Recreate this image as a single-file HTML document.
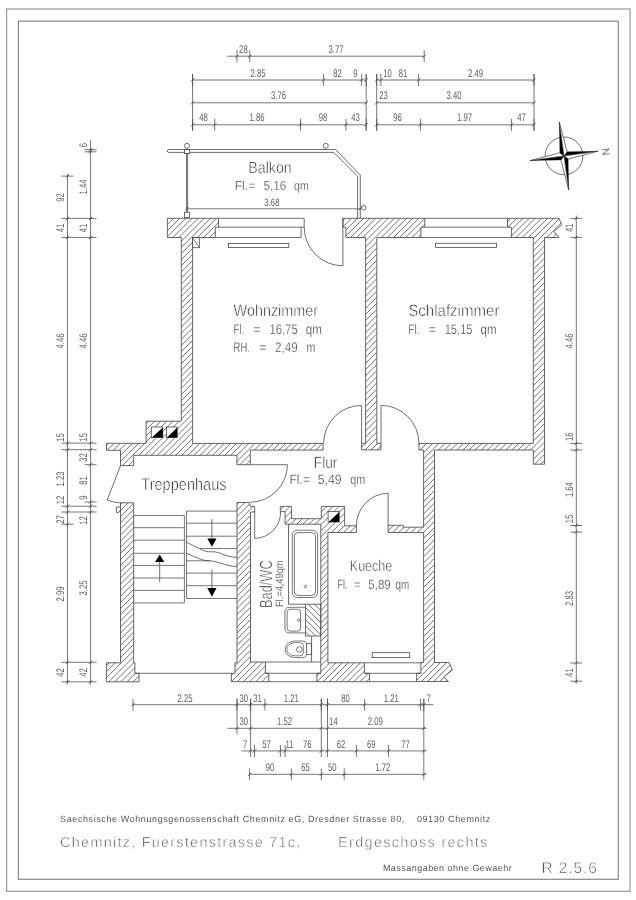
<!DOCTYPE html>
<html><head><meta charset="utf-8"><title>Grundriss</title>
<style>
html,body{margin:0;padding:0;background:#fff;}
svg{display:block;font-family:"Liberation Sans",sans-serif;text-rendering:geometricPrecision;will-change:transform;}
</style></head><body>
<svg width="636" height="900" viewBox="0 0 636 900">
<defs><filter id="soft" x="0" y="0" width="636" height="900" filterUnits="userSpaceOnUse"><feGaussianBlur stdDeviation="0.42"/></filter></defs>
<rect width="636" height="900" fill="#fff"/>
<g filter="url(#soft)">
<rect x="6.60" y="9.00" width="623.50" height="882.30" rx="0" fill="none" stroke="#9c9c9c" stroke-width="1.25"/>
<rect x="18.40" y="21.20" width="599.90" height="858.10" rx="0" fill="none" stroke="#8c8c8c" stroke-width="1.25"/>
<defs><clipPath id="wc"><path d="M167.40,218.30 L218.50,218.30 L218.50,227.20 L215.30,227.20 L215.30,237.50 L192.60,237.50 L192.60,443.40 L323.10,443.40 L323.10,450.10 L250.30,450.10 L250.30,464.70 L236.90,464.70 L236.90,455.30 L133.70,455.30 L133.70,465.60 L120.50,465.60 L120.50,450.30 L106.50,450.30 L106.50,443.30 L146.10,443.30 L146.10,421.20 L181.30,421.20 L181.30,237.50 L167.40,237.50 Z M342.90,218.30 L424.80,218.30 L424.80,227.20 L420.90,227.20 L420.90,237.50 L376.80,237.50 L376.80,443.30 L381.00,443.30 L381.00,449.90 L361.60,449.90 L361.60,443.30 L365.60,443.30 L365.60,237.50 L345.90,237.50 L345.90,227.20 L342.90,227.20 Z M507.50,218.30 L558.80,218.30 L561.90,224.60 L553.90,231.40 L558.80,237.50 L544.50,237.50 L544.50,464.20 L533.30,464.20 L533.30,450.00 L434.50,450.00 L434.50,662.50 L449.00,662.50 L452.40,670.00 L443.70,677.00 L448.40,681.50 L416.60,681.50 L416.60,673.30 L420.90,673.30 L420.90,662.50 L423.60,662.50 L423.60,532.50 L388.10,532.50 L388.10,525.30 L403.20,525.30 L403.20,527.20 L423.60,527.20 L423.60,450.00 L418.90,450.00 L418.90,443.40 L533.30,443.40 L533.30,237.50 L511.40,237.50 L511.40,227.20 L507.50,227.20 Z M120.50,502.80 L133.70,502.80 L133.70,662.80 L134.90,662.80 L134.90,673.30 L139.00,673.30 L139.00,681.80 L106.40,681.80 L106.40,662.80 L120.50,662.80 Z M237.00,502.50 L249.30,502.50 L250.30,506.30 L254.70,506.30 L254.70,512.00 L250.50,512.00 L250.50,662.00 L265.40,662.00 L265.40,673.30 L268.80,673.30 L268.80,681.70 L231.40,681.70 L231.40,673.30 L235.00,673.30 L235.00,662.80 L237.00,662.80 Z M280.30,506.40 L291.40,506.40 L291.40,518.70 L321.30,518.70 L321.30,506.40 L344.60,506.40 L344.60,525.80 L356.40,525.80 L356.40,532.50 L327.90,532.50 L327.90,662.80 L364.40,662.80 L364.40,673.30 L369.60,673.30 L369.60,681.70 L316.90,681.70 L316.90,673.30 L320.80,673.30 L320.80,524.20 L285.10,524.20 L285.10,511.60 L280.30,511.60 Z"/></clipPath>
<clipPath id="wc2"><rect x="305.4" y="604.2" width="15.4" height="31.8"/></clipPath></defs>
<path clip-path="url(#wc)" d="M-4.26,200 L-504.26,700 M1.87,200 L-498.13,700 M8.00,200 L-492.00,700 M14.13,200 L-485.87,700 M20.26,200 L-479.74,700 M26.39,200 L-473.61,700 M32.52,200 L-467.48,700 M38.65,200 L-461.35,700 M44.78,200 L-455.22,700 M50.91,200 L-449.09,700 M57.04,200 L-442.96,700 M63.17,200 L-436.83,700 M69.30,200 L-430.70,700 M75.43,200 L-424.57,700 M81.56,200 L-418.44,700 M87.69,200 L-412.31,700 M93.82,200 L-406.18,700 M99.95,200 L-400.05,700 M106.08,200 L-393.92,700 M112.21,200 L-387.79,700 M118.34,200 L-381.66,700 M124.47,200 L-375.53,700 M130.60,200 L-369.40,700 M136.73,200 L-363.27,700 M142.86,200 L-357.14,700 M148.99,200 L-351.01,700 M155.12,200 L-344.88,700 M161.25,200 L-338.75,700 M167.38,200 L-332.62,700 M173.51,200 L-326.49,700 M179.64,200 L-320.36,700 M185.77,200 L-314.23,700 M191.90,200 L-308.10,700 M198.03,200 L-301.97,700 M204.16,200 L-295.84,700 M210.29,200 L-289.71,700 M216.42,200 L-283.58,700 M222.55,200 L-277.45,700 M228.68,200 L-271.32,700 M234.81,200 L-265.19,700 M240.94,200 L-259.06,700 M247.07,200 L-252.93,700 M253.20,200 L-246.80,700 M259.33,200 L-240.67,700 M265.46,200 L-234.54,700 M271.59,200 L-228.41,700 M277.72,200 L-222.28,700 M283.85,200 L-216.15,700 M289.98,200 L-210.02,700 M296.11,200 L-203.89,700 M302.24,200 L-197.76,700 M308.37,200 L-191.63,700 M314.50,200 L-185.50,700 M320.63,200 L-179.37,700 M326.76,200 L-173.24,700 M332.89,200 L-167.11,700 M339.02,200 L-160.98,700 M345.15,200 L-154.85,700 M351.28,200 L-148.72,700 M357.41,200 L-142.59,700 M363.54,200 L-136.46,700 M369.67,200 L-130.33,700 M375.80,200 L-124.20,700 M381.93,200 L-118.07,700 M388.06,200 L-111.94,700 M394.19,200 L-105.81,700 M400.32,200 L-99.68,700 M406.45,200 L-93.55,700 M412.58,200 L-87.42,700 M418.71,200 L-81.29,700 M424.84,200 L-75.16,700 M430.97,200 L-69.03,700 M437.10,200 L-62.90,700 M443.23,200 L-56.77,700 M449.36,200 L-50.64,700 M455.49,200 L-44.51,700 M461.62,200 L-38.38,700 M467.75,200 L-32.25,700 M473.88,200 L-26.12,700 M480.01,200 L-19.99,700 M486.14,200 L-13.86,700 M492.27,200 L-7.73,700 M498.40,200 L-1.60,700 M504.53,200 L4.53,700 M510.66,200 L10.66,700 M516.79,200 L16.79,700 M522.92,200 L22.92,700 M529.05,200 L29.05,700 M535.18,200 L35.18,700 M541.31,200 L41.31,700 M547.44,200 L47.44,700 M553.57,200 L53.57,700 M559.70,200 L59.70,700 M565.83,200 L65.83,700 M571.96,200 L71.96,700 M578.09,200 L78.09,700 M584.22,200 L84.22,700 M590.35,200 L90.35,700 M596.48,200 L96.48,700 M602.61,200 L102.61,700 M608.74,200 L108.74,700 M614.87,200 L114.87,700 M621.00,200 L121.00,700 M627.13,200 L127.13,700 M633.26,200 L133.26,700 M639.39,200 L139.39,700 M645.52,200 L145.52,700 M651.65,200 L151.65,700 M657.78,200 L157.78,700 M663.91,200 L163.91,700 M670.04,200 L170.04,700 M676.17,200 L176.17,700 M682.30,200 L182.30,700 M688.43,200 L188.43,700 M694.56,200 L194.56,700 M700.69,200 L200.69,700 M706.82,200 L206.82,700 M712.95,200 L212.95,700 M719.08,200 L219.08,700 M725.21,200 L225.21,700 M731.34,200 L231.34,700 M737.47,200 L237.47,700 M743.60,200 L243.60,700 M749.73,200 L249.73,700 M755.86,200 L255.86,700 M761.99,200 L261.99,700 M768.12,200 L268.12,700 M774.25,200 L274.25,700 M780.38,200 L280.38,700 M786.51,200 L286.51,700 M792.64,200 L292.64,700 M798.77,200 L298.77,700 M804.90,200 L304.90,700 M811.03,200 L311.03,700 M817.16,200 L317.16,700 M823.29,200 L323.29,700 M829.42,200 L329.42,700 M835.55,200 L335.55,700 M841.68,200 L341.68,700 M847.81,200 L347.81,700 M853.94,200 L353.94,700 M860.07,200 L360.07,700 M866.20,200 L366.20,700 M872.33,200 L372.33,700 M878.46,200 L378.46,700 M884.59,200 L384.59,700 M890.72,200 L390.72,700 M896.85,200 L396.85,700 M902.98,200 L402.98,700 M909.11,200 L409.11,700 M915.24,200 L415.24,700 M921.37,200 L421.37,700 M927.50,200 L427.50,700 M933.63,200 L433.63,700 M939.76,200 L439.76,700 M945.89,200 L445.89,700 M952.02,200 L452.02,700 M958.15,200 L458.15,700 M964.28,200 L464.28,700 M970.41,200 L470.41,700 M976.54,200 L476.54,700 M982.67,200 L482.67,700 M988.80,200 L488.80,700 M994.93,200 L494.93,700 M1001.06,200 L501.06,700 M1007.19,200 L507.19,700 M1013.32,200 L513.32,700 M1019.45,200 L519.45,700 M1025.58,200 L525.58,700 M1031.71,200 L531.71,700 M1037.84,200 L537.84,700 M1043.97,200 L543.97,700 M1050.10,200 L550.10,700 M1056.23,200 L556.23,700 M1062.36,200 L562.36,700 M1068.49,200 L568.49,700 M1074.62,200 L574.62,700 M1080.75,200 L580.75,700 M1086.88,200 L586.88,700 M1093.01,200 L593.01,700 M1099.14,200 L599.14,700" stroke="#4c4c4c" stroke-width="0.78" fill="none"/>
<path clip-path="url(#wc2)" d="M190.00,590 L250.00,650 M196.13,590 L256.13,650 M202.26,590 L262.26,650 M208.39,590 L268.39,650 M214.52,590 L274.52,650 M220.65,590 L280.65,650 M226.78,590 L286.78,650 M232.91,590 L292.91,650 M239.04,590 L299.04,650 M245.17,590 L305.17,650 M251.30,590 L311.30,650 M257.43,590 L317.43,650 M263.56,590 L323.56,650 M269.69,590 L329.69,650 M275.82,590 L335.82,650 M281.95,590 L341.95,650 M288.08,590 L348.08,650 M294.21,590 L354.21,650 M300.34,590 L360.34,650 M306.47,590 L366.47,650 M312.60,590 L372.60,650 M318.73,590 L378.73,650 M324.86,590 L384.86,650 M330.99,590 L390.99,650 M337.12,590 L397.12,650 M343.25,590 L403.25,650 M349.38,590 L409.38,650 M355.51,590 L415.51,650 M361.64,590 L421.64,650 M367.77,590 L427.77,650 M373.90,590 L433.90,650 M380.03,590 L440.03,650 M386.16,590 L446.16,650 M392.29,590 L452.29,650 M398.42,590 L458.42,650 M404.55,590 L464.55,650 M410.68,590 L470.68,650 M416.81,590 L476.81,650 M422.94,590 L482.94,650 M429.07,590 L489.07,650 M435.20,590 L495.20,650 M441.33,590 L501.33,650 M447.46,590 L507.46,650 M453.59,590 L513.59,650 M459.72,590 L519.72,650 M465.85,590 L525.85,650 M471.98,590 L531.98,650 M478.11,590 L538.11,650 M484.24,590 L544.24,650 M490.37,590 L550.37,650 M496.50,590 L556.50,650 M502.63,590 L562.63,650 M508.76,590 L568.76,650 M514.89,590 L574.89,650 M521.02,590 L581.02,650 M527.15,590 L587.15,650 M533.28,590 L593.28,650 M539.41,590 L599.41,650 M545.54,590 L605.54,650 M551.67,590 L611.67,650 M557.80,590 L617.80,650 M563.93,590 L623.93,650 M570.06,590 L630.06,650 M576.19,590 L636.19,650 M582.32,590 L642.32,650 M588.45,590 L648.45,650" stroke="#4c4c4c" stroke-width="0.78" fill="none"/>
<rect x="305.40" y="604.20" width="15.40" height="31.80" rx="0" fill="none" stroke="#4a4a4a" stroke-width="0.8"/>
<path d="M167.40,218.30 L218.50,218.30 L218.50,227.20 L215.30,227.20 L215.30,237.50 L192.60,237.50 L192.60,443.40 L323.10,443.40 L323.10,450.10 L250.30,450.10 L250.30,464.70 L236.90,464.70 L236.90,455.30 L133.70,455.30 L133.70,465.60 L120.50,465.60 L120.50,450.30 L106.50,450.30 L106.50,443.30 L146.10,443.30 L146.10,421.20 L181.30,421.20 L181.30,237.50 L167.40,237.50 Z" fill="none" stroke="#4a4a4a" stroke-width="0.85" stroke-linejoin="miter"/>
<path d="M342.90,218.30 L424.80,218.30 L424.80,227.20 L420.90,227.20 L420.90,237.50 L376.80,237.50 L376.80,443.30 L381.00,443.30 L381.00,449.90 L361.60,449.90 L361.60,443.30 L365.60,443.30 L365.60,237.50 L345.90,237.50 L345.90,227.20 L342.90,227.20 Z" fill="none" stroke="#4a4a4a" stroke-width="0.85" stroke-linejoin="miter"/>
<path d="M507.50,218.30 L558.80,218.30 L561.90,224.60 L553.90,231.40 L558.80,237.50 L544.50,237.50 L544.50,464.20 L533.30,464.20 L533.30,450.00 L434.50,450.00 L434.50,662.50 L449.00,662.50 L452.40,670.00 L443.70,677.00 L448.40,681.50 L416.60,681.50 L416.60,673.30 L420.90,673.30 L420.90,662.50 L423.60,662.50 L423.60,532.50 L388.10,532.50 L388.10,525.30 L403.20,525.30 L403.20,527.20 L423.60,527.20 L423.60,450.00 L418.90,450.00 L418.90,443.40 L533.30,443.40 L533.30,237.50 L511.40,237.50 L511.40,227.20 L507.50,227.20 Z" fill="none" stroke="#4a4a4a" stroke-width="0.85" stroke-linejoin="miter"/>
<path d="M120.50,502.80 L133.70,502.80 L133.70,662.80 L134.90,662.80 L134.90,673.30 L139.00,673.30 L139.00,681.80 L106.40,681.80 L106.40,662.80 L120.50,662.80 Z" fill="none" stroke="#4a4a4a" stroke-width="0.85" stroke-linejoin="miter"/>
<path d="M237.00,502.50 L249.30,502.50 L250.30,506.30 L254.70,506.30 L254.70,512.00 L250.50,512.00 L250.50,662.00 L265.40,662.00 L265.40,673.30 L268.80,673.30 L268.80,681.70 L231.40,681.70 L231.40,673.30 L235.00,673.30 L235.00,662.80 L237.00,662.80 Z" fill="none" stroke="#4a4a4a" stroke-width="0.85" stroke-linejoin="miter"/>
<path d="M280.30,506.40 L291.40,506.40 L291.40,518.70 L321.30,518.70 L321.30,506.40 L344.60,506.40 L344.60,525.80 L356.40,525.80 L356.40,532.50 L327.90,532.50 L327.90,662.80 L364.40,662.80 L364.40,673.30 L369.60,673.30 L369.60,681.70 L316.90,681.70 L316.90,673.30 L320.80,673.30 L320.80,524.20 L285.10,524.20 L285.10,511.60 L280.30,511.60 Z" fill="none" stroke="#4a4a4a" stroke-width="0.85" stroke-linejoin="miter"/>
<rect x="151.30" y="427.00" width="11.50" height="10.60" rx="0" fill="#fff" stroke="#4a4a4a" stroke-width="0.8"/>
<path d="M151.90,437.60 L162.80,437.60 L162.80,427.60 Z" fill="#000"/>
<rect x="166.40" y="427.00" width="10.80" height="10.60" rx="0" fill="#fff" stroke="#4a4a4a" stroke-width="0.8"/>
<path d="M167.00,437.60 L177.20,437.60 L177.20,427.60 Z" fill="#000"/>
<rect x="328.10" y="511.40" width="11.10" height="10.70" rx="0" fill="#fff" stroke="#4a4a4a" stroke-width="0.8"/>
<path d="M328.70,522.10 L339.20,522.10 L339.20,512.00 Z" fill="#000"/>
<rect x="192.60" y="237.50" width="6.70" height="10.20" rx="0" fill="none" stroke="#4a4a4a" stroke-width="0.8"/>
<line x1="192.60" y1="237.50" x2="199.30" y2="247.70" stroke="#4a4a4a" stroke-width="0.7"/>
<path d="M120.50,507.00 L116.40,507.00 L116.40,512.40 L119.00,512.40 L119.00,511.20 L120.50,511.20" fill="none" stroke="#4a4a4a" stroke-width="0.8" stroke-linejoin="miter"/>
<line x1="218.50" y1="218.30" x2="304.20" y2="218.30" stroke="#4a4a4a" stroke-width="0.8"/>
<line x1="304.20" y1="218.30" x2="304.20" y2="227.20" stroke="#4a4a4a" stroke-width="0.8"/>
<line x1="218.50" y1="227.20" x2="304.20" y2="227.20" stroke="#4a4a4a" stroke-width="0.8"/>
<line x1="301.10" y1="227.20" x2="301.10" y2="237.50" stroke="#4a4a4a" stroke-width="0.8"/>
<line x1="215.30" y1="237.50" x2="301.10" y2="237.50" stroke="#4a4a4a" stroke-width="0.8"/>
<rect x="228.40" y="243.40" width="60.40" height="4.10" rx="0" fill="none" stroke="#4a4a4a" stroke-width="0.8"/>
<line x1="424.80" y1="218.30" x2="507.50" y2="218.30" stroke="#4a4a4a" stroke-width="0.8"/>
<line x1="424.80" y1="227.20" x2="507.50" y2="227.20" stroke="#4a4a4a" stroke-width="0.8"/>
<line x1="420.90" y1="237.50" x2="511.40" y2="237.50" stroke="#4a4a4a" stroke-width="0.8"/>
<rect x="435.60" y="243.30" width="60.90" height="4.20" rx="0" fill="none" stroke="#4a4a4a" stroke-width="0.8"/>
<line x1="265.40" y1="662.00" x2="320.80" y2="662.00" stroke="#4a4a4a" stroke-width="0.8"/>
<line x1="265.40" y1="673.30" x2="320.80" y2="673.30" stroke="#4a4a4a" stroke-width="0.8"/>
<line x1="268.80" y1="681.70" x2="316.90" y2="681.70" stroke="#4a4a4a" stroke-width="0.8"/>
<line x1="364.40" y1="662.80" x2="420.90" y2="662.80" stroke="#4a4a4a" stroke-width="0.8"/>
<line x1="364.40" y1="673.30" x2="420.90" y2="673.30" stroke="#4a4a4a" stroke-width="0.8"/>
<line x1="369.60" y1="681.60" x2="416.60" y2="681.60" stroke="#4a4a4a" stroke-width="0.8"/>
<rect x="372.20" y="652.70" width="37.50" height="4.90" rx="0" fill="none" stroke="#4a4a4a" stroke-width="0.8"/>
<line x1="134.90" y1="673.30" x2="231.40" y2="673.30" stroke="#4a4a4a" stroke-width="0.8"/>
<line x1="342.90" y1="218.30" x2="342.90" y2="265.80" stroke="#4a4a4a" stroke-width="0.8"/>
<path d="M304.2,227.2 A38.6,38.6 0 0 0 342.9,265.8" fill="none" stroke="#4a4a4a" stroke-width="0.8"/>
<line x1="361.60" y1="405.40" x2="361.60" y2="443.30" stroke="#4a4a4a" stroke-width="0.8"/>
<path d="M323.6,443.3 A38,38 0 0 1 361.6,405.4" fill="none" stroke="#4a4a4a" stroke-width="0.8"/>
<line x1="381.00" y1="405.40" x2="381.00" y2="443.30" stroke="#4a4a4a" stroke-width="0.8"/>
<path d="M381,405.4 A37.9,37.9 0 0 1 418.9,443.3" fill="none" stroke="#4a4a4a" stroke-width="0.8"/>
<line x1="250.30" y1="464.70" x2="287.40" y2="464.70" stroke="#4a4a4a" stroke-width="0.8"/>
<path d="M287.4,464.7 A37.6,37.6 0 0 1 250.3,502.3" fill="none" stroke="#4a4a4a" stroke-width="0.8"/>
<line x1="254.70" y1="512.00" x2="254.70" y2="538.40" stroke="#4a4a4a" stroke-width="0.8"/>
<path d="M254.7,538.4 A26.2,26.2 0 0 0 280.6,512" fill="none" stroke="#4a4a4a" stroke-width="0.8"/>
<line x1="388.10" y1="493.20" x2="388.10" y2="525.80" stroke="#4a4a4a" stroke-width="0.8"/>
<path d="M356.4,526 A32.4,32.4 0 0 1 388.1,493.2" fill="none" stroke="#4a4a4a" stroke-width="0.8"/>
<path d="M120.5,465.6 L107.2,500 Q113,502.6 120.5,502.9" fill="none" stroke="#4a4a4a" stroke-width="0.8"/>
<line x1="133.70" y1="515.50" x2="184.40" y2="515.50" stroke="#4a4a4a" stroke-width="0.75"/>
<line x1="133.70" y1="527.70" x2="184.40" y2="527.70" stroke="#4a4a4a" stroke-width="0.75"/>
<line x1="133.70" y1="540.20" x2="184.40" y2="540.20" stroke="#4a4a4a" stroke-width="0.75"/>
<line x1="133.70" y1="553.30" x2="184.40" y2="553.30" stroke="#4a4a4a" stroke-width="0.75"/>
<line x1="133.70" y1="565.40" x2="184.40" y2="565.40" stroke="#4a4a4a" stroke-width="0.75"/>
<line x1="133.70" y1="578.00" x2="184.40" y2="578.00" stroke="#4a4a4a" stroke-width="0.75"/>
<line x1="133.70" y1="590.40" x2="184.40" y2="590.40" stroke="#4a4a4a" stroke-width="0.75"/>
<line x1="133.70" y1="602.90" x2="184.40" y2="602.90" stroke="#4a4a4a" stroke-width="0.75"/>
<line x1="184.40" y1="515.50" x2="184.40" y2="602.90" stroke="#4a4a4a" stroke-width="0.75"/>
<line x1="186.50" y1="511.10" x2="186.50" y2="598.50" stroke="#4a4a4a" stroke-width="0.75"/>
<line x1="186.50" y1="511.10" x2="236.90" y2="511.10" stroke="#4a4a4a" stroke-width="0.75"/>
<line x1="186.50" y1="523.20" x2="236.90" y2="523.20" stroke="#4a4a4a" stroke-width="0.75"/>
<line x1="186.50" y1="536.20" x2="236.90" y2="536.20" stroke="#4a4a4a" stroke-width="0.75"/>
<line x1="186.50" y1="573.10" x2="236.90" y2="573.10" stroke="#4a4a4a" stroke-width="0.75"/>
<line x1="186.50" y1="585.70" x2="236.90" y2="585.70" stroke="#4a4a4a" stroke-width="0.75"/>
<line x1="186.50" y1="598.50" x2="236.90" y2="598.50" stroke="#4a4a4a" stroke-width="0.75"/>
<line x1="200.00" y1="548.60" x2="236.90" y2="548.60" stroke="#4a4a4a" stroke-width="0.75"/>
<line x1="186.40" y1="560.80" x2="210.20" y2="560.80" stroke="#4a4a4a" stroke-width="0.75"/>
<path d="M186.4,542.3 C191,544.3 196,547.2 200.4,548.9 C202.5,549.8 203.8,550.9 205.6,551.3 C209,552.1 212.5,551.5 215.8,552 C220,552.7 224,555 228,556.1 C231,556.9 234,557.1 236.9,557.4" fill="none" stroke="#4a4a4a" stroke-width="0.8"/>
<path d="M186.4,553.3 C191,555.1 196,557.6 200.4,559.1 C202.3,559.8 203.8,560.3 205.6,560.5 C207.7,560.8 209.7,560.6 211.7,560.9 C215,561.4 218,562.4 220.9,563.2 C224,564.1 227,565.1 230.1,565.8 C232.4,566.3 234.6,566.4 236.9,566.5" fill="none" stroke="#4a4a4a" stroke-width="0.8"/>
<line x1="159.70" y1="582.00" x2="159.70" y2="562.10" stroke="#4a4a4a" stroke-width="0.8"/>
<path d="M155.10,562.10 L164.30,562.10 L159.70,554.40 Z" fill="#000"/>
<line x1="211.90" y1="519.20" x2="211.90" y2="538.40" stroke="#4a4a4a" stroke-width="0.8"/>
<path d="M207.30,538.40 L216.50,538.40 L211.90,546.70 Z" fill="#000"/>
<line x1="211.90" y1="569.80" x2="211.90" y2="588.10" stroke="#4a4a4a" stroke-width="0.8"/>
<path d="M207.30,588.10 L216.50,588.10 L211.90,596.70 Z" fill="#000"/>
<line x1="288.50" y1="524.20" x2="288.50" y2="604.20" stroke="#4a4a4a" stroke-width="0.8"/>
<line x1="288.50" y1="604.20" x2="305.40" y2="604.20" stroke="#4a4a4a" stroke-width="0.8"/>
<rect x="292.30" y="530.20" width="25.30" height="67.30" rx="5" fill="none" stroke="#4a4a4a" stroke-width="0.75"/>
<rect x="294.40" y="532.60" width="21.10" height="62.80" rx="3.6" fill="none" stroke="#4a4a4a" stroke-width="0.75"/>
<circle cx="305.40" cy="586.60" r="1.3" fill="none" stroke="#4a4a4a" stroke-width="0.7"/>
<path d="M305.4,607.3 L289.4,607.3 Q284.9,607.3 284.9,611.8 L284.9,628.4 Q284.9,632.9 289.4,632.9 L305.4,632.9" fill="none" stroke="#4a4a4a" stroke-width="0.75"/>
<rect x="287.10" y="609.20" width="13.50" height="21.90" rx="3" fill="none" stroke="#4a4a4a" stroke-width="0.75"/>
<circle cx="298.60" cy="620.30" r="1.2" fill="none" stroke="#4a4a4a" stroke-width="0.7"/>
<line x1="311.60" y1="636.00" x2="311.60" y2="662.00" stroke="#4a4a4a" stroke-width="0.8"/>
<rect x="306.60" y="643.60" width="5.00" height="10.90" rx="0" fill="none" stroke="#4a4a4a" stroke-width="0.75"/>
<path d="M297,641 L302,641 Q306.6,641 306.6,645 L306.6,653.7 Q306.6,657.7 302,657.7 L297,657.7 C289,657.7 285.2,654 285.2,649.35 C285.2,644.7 289,641 297,641 Z" fill="#fff" stroke="#4a4a4a" stroke-width="0.75"/>
<path d="M296.5,642.7 L300,642.7 Q303.3,642.7 303.3,645.5 L303.3,653 Q303.3,655.8 300,655.8 L296.5,655.8 C290,655.8 287,653 287,649.25 C287,645.5 290,642.7 296.5,642.7 Z" fill="none" stroke="#4a4a4a" stroke-width="0.7"/>
<circle cx="299.30" cy="649.40" r="2.8" fill="none" stroke="#4a4a4a" stroke-width="0.75"/>
<path d="M168.8,149.5 L335.6,149.5 L360.3,175.1 L360.3,218.3" fill="none" stroke="#4a4a4a" stroke-width="0.8"/>
<path d="M168.8,152.4 L333.7,152.4 L357.6,176.2 L357.6,218.3" fill="none" stroke="#4a4a4a" stroke-width="0.8"/>
<path d="M168.8,149.5 A1.45,1.45 0 0 0 168.8,152.4" fill="none" stroke="#4a4a4a" stroke-width="0.8"/>
<circle cx="187.00" cy="145.80" r="2.5" fill="none" stroke="#4a4a4a" stroke-width="0.8"/>
<rect x="184.50" y="149.50" width="5.10" height="4.10" rx="0" fill="#fff" stroke="#4a4a4a" stroke-width="0.8"/>
<circle cx="325.80" cy="145.80" r="2.5" fill="none" stroke="#4a4a4a" stroke-width="0.8"/>
<circle cx="363.70" cy="207.70" r="2.3" fill="none" stroke="#4a4a4a" stroke-width="0.8"/>
<line x1="186.60" y1="153.60" x2="186.60" y2="212.30" stroke="#4a4a4a" stroke-width="0.8"/>
<line x1="187.60" y1="153.60" x2="187.60" y2="212.30" stroke="#4a4a4a" stroke-width="0.8"/>
<rect x="184.40" y="212.30" width="5.20" height="5.10" rx="0" fill="#fff" stroke="#4a4a4a" stroke-width="0.8"/>
<line x1="187.00" y1="208.80" x2="360.30" y2="208.80" stroke="#4a4a4a" stroke-width="0.75"/>
<line x1="185.40" y1="210.40" x2="188.60" y2="207.20" stroke="#4a4a4a" stroke-width="0.9"/>
<line x1="358.70" y1="210.40" x2="361.90" y2="207.20" stroke="#4a4a4a" stroke-width="0.9"/>
<text x="271.90" y="206.00" font-size="10.8" text-anchor="middle" fill="#5e5e5e" transform="translate(271.90 0) scale(0.72 1) translate(-271.90 0)">3.68</text>
<line x1="227.00" y1="56.20" x2="424.20" y2="56.20" stroke="#4a4a4a" stroke-width="0.75"/>
<line x1="237.00" y1="50.20" x2="237.00" y2="62.20" stroke="#4a4a4a" stroke-width="0.75"/>
<line x1="235.40" y1="57.80" x2="238.60" y2="54.60" stroke="#4a4a4a" stroke-width="0.9"/>
<line x1="249.80" y1="50.20" x2="249.80" y2="62.20" stroke="#4a4a4a" stroke-width="0.75"/>
<line x1="248.20" y1="57.80" x2="251.40" y2="54.60" stroke="#4a4a4a" stroke-width="0.9"/>
<line x1="424.20" y1="50.20" x2="424.20" y2="62.20" stroke="#4a4a4a" stroke-width="0.75"/>
<line x1="422.60" y1="57.80" x2="425.80" y2="54.60" stroke="#4a4a4a" stroke-width="0.9"/>
<line x1="192.60" y1="80.00" x2="366.20" y2="80.00" stroke="#4a4a4a" stroke-width="0.75"/>
<line x1="376.70" y1="80.00" x2="534.00" y2="80.00" stroke="#4a4a4a" stroke-width="0.75"/>
<line x1="192.60" y1="74.00" x2="192.60" y2="86.00" stroke="#4a4a4a" stroke-width="0.75"/>
<line x1="191.00" y1="81.60" x2="194.20" y2="78.40" stroke="#4a4a4a" stroke-width="0.9"/>
<line x1="323.60" y1="74.00" x2="323.60" y2="86.00" stroke="#4a4a4a" stroke-width="0.75"/>
<line x1="322.00" y1="81.60" x2="325.20" y2="78.40" stroke="#4a4a4a" stroke-width="0.9"/>
<line x1="361.60" y1="74.00" x2="361.60" y2="86.00" stroke="#4a4a4a" stroke-width="0.75"/>
<line x1="360.00" y1="81.60" x2="363.20" y2="78.40" stroke="#4a4a4a" stroke-width="0.9"/>
<line x1="366.20" y1="74.00" x2="366.20" y2="86.00" stroke="#4a4a4a" stroke-width="0.75"/>
<line x1="364.60" y1="81.60" x2="367.80" y2="78.40" stroke="#4a4a4a" stroke-width="0.9"/>
<line x1="376.70" y1="74.00" x2="376.70" y2="86.00" stroke="#4a4a4a" stroke-width="0.75"/>
<line x1="375.10" y1="81.60" x2="378.30" y2="78.40" stroke="#4a4a4a" stroke-width="0.9"/>
<line x1="380.90" y1="74.00" x2="380.90" y2="86.00" stroke="#4a4a4a" stroke-width="0.75"/>
<line x1="379.30" y1="81.60" x2="382.50" y2="78.40" stroke="#4a4a4a" stroke-width="0.9"/>
<line x1="418.60" y1="74.00" x2="418.60" y2="86.00" stroke="#4a4a4a" stroke-width="0.75"/>
<line x1="417.00" y1="81.60" x2="420.20" y2="78.40" stroke="#4a4a4a" stroke-width="0.9"/>
<line x1="534.00" y1="74.00" x2="534.00" y2="86.00" stroke="#4a4a4a" stroke-width="0.75"/>
<line x1="532.40" y1="81.60" x2="535.60" y2="78.40" stroke="#4a4a4a" stroke-width="0.9"/>
<line x1="192.60" y1="102.80" x2="366.20" y2="102.80" stroke="#4a4a4a" stroke-width="0.75"/>
<line x1="376.70" y1="102.80" x2="534.00" y2="102.80" stroke="#4a4a4a" stroke-width="0.75"/>
<line x1="191.00" y1="104.40" x2="194.20" y2="101.20" stroke="#4a4a4a" stroke-width="0.9"/>
<line x1="364.60" y1="104.40" x2="367.80" y2="101.20" stroke="#4a4a4a" stroke-width="0.9"/>
<line x1="375.10" y1="104.40" x2="378.30" y2="101.20" stroke="#4a4a4a" stroke-width="0.9"/>
<line x1="532.40" y1="104.40" x2="535.60" y2="101.20" stroke="#4a4a4a" stroke-width="0.9"/>
<line x1="192.60" y1="124.80" x2="366.20" y2="124.80" stroke="#4a4a4a" stroke-width="0.75"/>
<line x1="376.70" y1="124.80" x2="534.00" y2="124.80" stroke="#4a4a4a" stroke-width="0.75"/>
<line x1="192.60" y1="118.80" x2="192.60" y2="130.80" stroke="#4a4a4a" stroke-width="0.75"/>
<line x1="191.00" y1="126.40" x2="194.20" y2="123.20" stroke="#4a4a4a" stroke-width="0.9"/>
<line x1="214.70" y1="118.80" x2="214.70" y2="130.80" stroke="#4a4a4a" stroke-width="0.75"/>
<line x1="213.10" y1="126.40" x2="216.30" y2="123.20" stroke="#4a4a4a" stroke-width="0.9"/>
<line x1="300.50" y1="118.80" x2="300.50" y2="130.80" stroke="#4a4a4a" stroke-width="0.75"/>
<line x1="298.90" y1="126.40" x2="302.10" y2="123.20" stroke="#4a4a4a" stroke-width="0.9"/>
<line x1="346.00" y1="118.80" x2="346.00" y2="130.80" stroke="#4a4a4a" stroke-width="0.75"/>
<line x1="344.40" y1="126.40" x2="347.60" y2="123.20" stroke="#4a4a4a" stroke-width="0.9"/>
<line x1="366.20" y1="118.80" x2="366.20" y2="130.80" stroke="#4a4a4a" stroke-width="0.75"/>
<line x1="364.60" y1="126.40" x2="367.80" y2="123.20" stroke="#4a4a4a" stroke-width="0.9"/>
<line x1="376.70" y1="118.80" x2="376.70" y2="130.80" stroke="#4a4a4a" stroke-width="0.75"/>
<line x1="375.10" y1="126.40" x2="378.30" y2="123.20" stroke="#4a4a4a" stroke-width="0.9"/>
<line x1="420.40" y1="118.80" x2="420.40" y2="130.80" stroke="#4a4a4a" stroke-width="0.75"/>
<line x1="418.80" y1="126.40" x2="422.00" y2="123.20" stroke="#4a4a4a" stroke-width="0.9"/>
<line x1="511.50" y1="118.80" x2="511.50" y2="130.80" stroke="#4a4a4a" stroke-width="0.75"/>
<line x1="509.90" y1="126.40" x2="513.10" y2="123.20" stroke="#4a4a4a" stroke-width="0.9"/>
<line x1="534.00" y1="118.80" x2="534.00" y2="130.80" stroke="#4a4a4a" stroke-width="0.75"/>
<line x1="532.40" y1="126.40" x2="535.60" y2="123.20" stroke="#4a4a4a" stroke-width="0.9"/>
<line x1="192.60" y1="74.00" x2="192.60" y2="130.80" stroke="#4a4a4a" stroke-width="0.75"/>
<line x1="366.20" y1="74.00" x2="366.20" y2="130.80" stroke="#4a4a4a" stroke-width="0.75"/>
<line x1="376.70" y1="74.00" x2="376.70" y2="130.80" stroke="#4a4a4a" stroke-width="0.75"/>
<line x1="534.00" y1="74.00" x2="534.00" y2="130.80" stroke="#4a4a4a" stroke-width="0.75"/>
<text x="243.40" y="52.80" font-size="11.0" text-anchor="middle" fill="#5e5e5e" transform="translate(243.40 0) scale(0.7 1) translate(-243.40 0)">28</text>
<text x="336.00" y="52.80" font-size="11.0" text-anchor="middle" fill="#5e5e5e" transform="translate(336.00 0) scale(0.7 1) translate(-336.00 0)">3.77</text>
<text x="258.00" y="76.60" font-size="11.0" text-anchor="middle" fill="#5e5e5e" transform="translate(258.00 0) scale(0.7 1) translate(-258.00 0)">2.85</text>
<text x="337.50" y="76.60" font-size="11.0" text-anchor="middle" fill="#5e5e5e" transform="translate(337.50 0) scale(0.7 1) translate(-337.50 0)">82</text>
<text x="355.50" y="76.60" font-size="11.0" text-anchor="middle" fill="#5e5e5e" transform="translate(355.50 0) scale(0.7 1) translate(-355.50 0)">9</text>
<text x="387.50" y="76.60" font-size="11.0" text-anchor="middle" fill="#5e5e5e" transform="translate(387.50 0) scale(0.7 1) translate(-387.50 0)">10</text>
<text x="403.00" y="76.60" font-size="11.0" text-anchor="middle" fill="#5e5e5e" transform="translate(403.00 0) scale(0.7 1) translate(-403.00 0)">81</text>
<text x="475.50" y="76.60" font-size="11.0" text-anchor="middle" fill="#5e5e5e" transform="translate(475.50 0) scale(0.7 1) translate(-475.50 0)">2.49</text>
<text x="278.50" y="99.40" font-size="11.0" text-anchor="middle" fill="#5e5e5e" transform="translate(278.50 0) scale(0.7 1) translate(-278.50 0)">3.76</text>
<text x="383.50" y="99.40" font-size="11.0" text-anchor="middle" fill="#5e5e5e" transform="translate(383.50 0) scale(0.7 1) translate(-383.50 0)">23</text>
<text x="454.00" y="99.40" font-size="11.0" text-anchor="middle" fill="#5e5e5e" transform="translate(454.00 0) scale(0.7 1) translate(-454.00 0)">3.40</text>
<text x="203.50" y="121.40" font-size="11.0" text-anchor="middle" fill="#5e5e5e" transform="translate(203.50 0) scale(0.7 1) translate(-203.50 0)">48</text>
<text x="257.00" y="121.40" font-size="11.0" text-anchor="middle" fill="#5e5e5e" transform="translate(257.00 0) scale(0.7 1) translate(-257.00 0)">1.86</text>
<text x="323.00" y="121.40" font-size="11.0" text-anchor="middle" fill="#5e5e5e" transform="translate(323.00 0) scale(0.7 1) translate(-323.00 0)">98</text>
<text x="355.50" y="121.40" font-size="11.0" text-anchor="middle" fill="#5e5e5e" transform="translate(355.50 0) scale(0.7 1) translate(-355.50 0)">43</text>
<text x="397.50" y="121.40" font-size="11.0" text-anchor="middle" fill="#5e5e5e" transform="translate(397.50 0) scale(0.7 1) translate(-397.50 0)">96</text>
<text x="464.50" y="121.40" font-size="11.0" text-anchor="middle" fill="#5e5e5e" transform="translate(464.50 0) scale(0.7 1) translate(-464.50 0)">1.97</text>
<text x="521.50" y="121.40" font-size="11.0" text-anchor="middle" fill="#5e5e5e" transform="translate(521.50 0) scale(0.7 1) translate(-521.50 0)">47</text>
<line x1="67.50" y1="174.00" x2="67.50" y2="684.50" stroke="#4a4a4a" stroke-width="0.75"/>
<line x1="90.60" y1="140.20" x2="90.60" y2="684.50" stroke="#4a4a4a" stroke-width="0.75"/>
<line x1="84.60" y1="149.70" x2="96.60" y2="149.70" stroke="#4a4a4a" stroke-width="0.75"/>
<line x1="89.00" y1="151.30" x2="92.20" y2="148.10" stroke="#4a4a4a" stroke-width="0.9"/>
<line x1="84.60" y1="151.80" x2="96.60" y2="151.80" stroke="#4a4a4a" stroke-width="0.75"/>
<line x1="89.00" y1="153.40" x2="92.20" y2="150.20" stroke="#4a4a4a" stroke-width="0.9"/>
<line x1="61.50" y1="176.10" x2="73.50" y2="176.10" stroke="#4a4a4a" stroke-width="0.75"/>
<line x1="65.90" y1="177.70" x2="69.10" y2="174.50" stroke="#4a4a4a" stroke-width="0.9"/>
<line x1="61.50" y1="218.40" x2="96.60" y2="218.40" stroke="#4a4a4a" stroke-width="0.75"/>
<line x1="65.90" y1="220.00" x2="69.10" y2="216.80" stroke="#4a4a4a" stroke-width="0.9"/>
<line x1="89.00" y1="220.00" x2="92.20" y2="216.80" stroke="#4a4a4a" stroke-width="0.9"/>
<line x1="61.50" y1="237.40" x2="96.60" y2="237.40" stroke="#4a4a4a" stroke-width="0.75"/>
<line x1="65.90" y1="239.00" x2="69.10" y2="235.80" stroke="#4a4a4a" stroke-width="0.9"/>
<line x1="89.00" y1="239.00" x2="92.20" y2="235.80" stroke="#4a4a4a" stroke-width="0.9"/>
<line x1="61.50" y1="443.10" x2="96.60" y2="443.10" stroke="#4a4a4a" stroke-width="0.75"/>
<line x1="65.90" y1="444.70" x2="69.10" y2="441.50" stroke="#4a4a4a" stroke-width="0.9"/>
<line x1="89.00" y1="444.70" x2="92.20" y2="441.50" stroke="#4a4a4a" stroke-width="0.9"/>
<line x1="61.50" y1="449.70" x2="96.60" y2="449.70" stroke="#4a4a4a" stroke-width="0.75"/>
<line x1="65.90" y1="451.30" x2="69.10" y2="448.10" stroke="#4a4a4a" stroke-width="0.9"/>
<line x1="89.00" y1="451.30" x2="92.20" y2="448.10" stroke="#4a4a4a" stroke-width="0.9"/>
<line x1="61.50" y1="506.20" x2="96.60" y2="506.20" stroke="#4a4a4a" stroke-width="0.75"/>
<line x1="65.90" y1="507.80" x2="69.10" y2="504.60" stroke="#4a4a4a" stroke-width="0.9"/>
<line x1="89.00" y1="507.80" x2="92.20" y2="504.60" stroke="#4a4a4a" stroke-width="0.9"/>
<line x1="61.50" y1="512.00" x2="96.60" y2="512.00" stroke="#4a4a4a" stroke-width="0.75"/>
<line x1="65.90" y1="513.60" x2="69.10" y2="510.40" stroke="#4a4a4a" stroke-width="0.9"/>
<line x1="89.00" y1="513.60" x2="92.20" y2="510.40" stroke="#4a4a4a" stroke-width="0.9"/>
<line x1="61.50" y1="662.30" x2="96.60" y2="662.30" stroke="#4a4a4a" stroke-width="0.75"/>
<line x1="65.90" y1="663.90" x2="69.10" y2="660.70" stroke="#4a4a4a" stroke-width="0.9"/>
<line x1="89.00" y1="663.90" x2="92.20" y2="660.70" stroke="#4a4a4a" stroke-width="0.9"/>
<line x1="61.50" y1="681.80" x2="96.60" y2="681.80" stroke="#4a4a4a" stroke-width="0.75"/>
<line x1="65.90" y1="683.40" x2="69.10" y2="680.20" stroke="#4a4a4a" stroke-width="0.9"/>
<line x1="89.00" y1="683.40" x2="92.20" y2="680.20" stroke="#4a4a4a" stroke-width="0.9"/>
<line x1="84.60" y1="464.70" x2="96.60" y2="464.70" stroke="#4a4a4a" stroke-width="0.75"/>
<line x1="89.00" y1="466.30" x2="92.20" y2="463.10" stroke="#4a4a4a" stroke-width="0.9"/>
<line x1="84.60" y1="502.00" x2="96.60" y2="502.00" stroke="#4a4a4a" stroke-width="0.75"/>
<line x1="89.00" y1="503.60" x2="92.20" y2="500.40" stroke="#4a4a4a" stroke-width="0.9"/>
<line x1="61.50" y1="524.20" x2="73.50" y2="524.20" stroke="#4a4a4a" stroke-width="0.75"/>
<line x1="65.90" y1="525.80" x2="69.10" y2="522.60" stroke="#4a4a4a" stroke-width="0.9"/>
<text x="0" y="0" font-size="11.0" text-anchor="middle" fill="#5e5e5e" transform="translate(87.40 145.00) rotate(-90) scale(0.70 1)">6</text>
<text x="0" y="0" font-size="11.0" text-anchor="middle" fill="#5e5e5e" transform="translate(87.40 187.00) rotate(-90) scale(0.70 1)">1.44</text>
<text x="0" y="0" font-size="11.0" text-anchor="middle" fill="#5e5e5e" transform="translate(64.30 197.50) rotate(-90) scale(0.70 1)">92</text>
<text x="0" y="0" font-size="11.0" text-anchor="middle" fill="#5e5e5e" transform="translate(64.30 228.00) rotate(-90) scale(0.70 1)">41</text>
<text x="0" y="0" font-size="11.0" text-anchor="middle" fill="#5e5e5e" transform="translate(87.40 228.00) rotate(-90) scale(0.70 1)">41</text>
<text x="0" y="0" font-size="11.0" text-anchor="middle" fill="#5e5e5e" transform="translate(64.30 341.00) rotate(-90) scale(0.70 1)">4.46</text>
<text x="0" y="0" font-size="11.0" text-anchor="middle" fill="#5e5e5e" transform="translate(87.40 341.00) rotate(-90) scale(0.70 1)">4.46</text>
<text x="0" y="0" font-size="11.0" text-anchor="middle" fill="#5e5e5e" transform="translate(64.30 437.50) rotate(-90) scale(0.70 1)">15</text>
<text x="0" y="0" font-size="11.0" text-anchor="middle" fill="#5e5e5e" transform="translate(87.40 437.50) rotate(-90) scale(0.70 1)">15</text>
<text x="0" y="0" font-size="11.0" text-anchor="middle" fill="#5e5e5e" transform="translate(87.40 457.50) rotate(-90) scale(0.70 1)">32</text>
<text x="0" y="0" font-size="11.0" text-anchor="middle" fill="#5e5e5e" transform="translate(87.40 480.50) rotate(-90) scale(0.70 1)">81</text>
<text x="0" y="0" font-size="11.0" text-anchor="middle" fill="#5e5e5e" transform="translate(87.40 497.60) rotate(-90) scale(0.70 1)">9</text>
<text x="0" y="0" font-size="11.0" text-anchor="middle" fill="#5e5e5e" transform="translate(87.40 520.50) rotate(-90) scale(0.70 1)">12</text>
<text x="0" y="0" font-size="11.0" text-anchor="middle" fill="#5e5e5e" transform="translate(64.30 479.00) rotate(-90) scale(0.70 1)">1.23</text>
<text x="0" y="0" font-size="11.0" text-anchor="middle" fill="#5e5e5e" transform="translate(64.30 500.00) rotate(-90) scale(0.70 1)">12</text>
<text x="0" y="0" font-size="11.0" text-anchor="middle" fill="#5e5e5e" transform="translate(64.30 519.40) rotate(-90) scale(0.70 1)">27</text>
<text x="0" y="0" font-size="11.0" text-anchor="middle" fill="#5e5e5e" transform="translate(64.30 594.00) rotate(-90) scale(0.70 1)">2.99</text>
<text x="0" y="0" font-size="11.0" text-anchor="middle" fill="#5e5e5e" transform="translate(87.40 588.00) rotate(-90) scale(0.70 1)">3.25</text>
<text x="0" y="0" font-size="11.0" text-anchor="middle" fill="#5e5e5e" transform="translate(64.30 672.50) rotate(-90) scale(0.70 1)">42</text>
<text x="0" y="0" font-size="11.0" text-anchor="middle" fill="#5e5e5e" transform="translate(87.40 672.50) rotate(-90) scale(0.70 1)">42</text>
<line x1="576.30" y1="215.60" x2="576.30" y2="683.60" stroke="#4a4a4a" stroke-width="0.75"/>
<line x1="570.30" y1="218.40" x2="582.30" y2="218.40" stroke="#4a4a4a" stroke-width="0.75"/>
<line x1="574.70" y1="220.00" x2="577.90" y2="216.80" stroke="#4a4a4a" stroke-width="0.9"/>
<line x1="570.30" y1="237.40" x2="582.30" y2="237.40" stroke="#4a4a4a" stroke-width="0.75"/>
<line x1="574.70" y1="239.00" x2="577.90" y2="235.80" stroke="#4a4a4a" stroke-width="0.9"/>
<line x1="570.30" y1="443.40" x2="582.30" y2="443.40" stroke="#4a4a4a" stroke-width="0.75"/>
<line x1="574.70" y1="445.00" x2="577.90" y2="441.80" stroke="#4a4a4a" stroke-width="0.9"/>
<line x1="570.30" y1="450.00" x2="582.30" y2="450.00" stroke="#4a4a4a" stroke-width="0.75"/>
<line x1="574.70" y1="451.60" x2="577.90" y2="448.40" stroke="#4a4a4a" stroke-width="0.9"/>
<line x1="570.30" y1="525.50" x2="582.30" y2="525.50" stroke="#4a4a4a" stroke-width="0.75"/>
<line x1="574.70" y1="527.10" x2="577.90" y2="523.90" stroke="#4a4a4a" stroke-width="0.9"/>
<line x1="570.30" y1="532.10" x2="582.30" y2="532.10" stroke="#4a4a4a" stroke-width="0.75"/>
<line x1="574.70" y1="533.70" x2="577.90" y2="530.50" stroke="#4a4a4a" stroke-width="0.9"/>
<line x1="570.30" y1="663.00" x2="582.30" y2="663.00" stroke="#4a4a4a" stroke-width="0.75"/>
<line x1="574.70" y1="664.60" x2="577.90" y2="661.40" stroke="#4a4a4a" stroke-width="0.9"/>
<line x1="570.30" y1="681.20" x2="582.30" y2="681.20" stroke="#4a4a4a" stroke-width="0.75"/>
<line x1="574.70" y1="682.80" x2="577.90" y2="679.60" stroke="#4a4a4a" stroke-width="0.9"/>
<text x="0" y="0" font-size="11.0" text-anchor="middle" fill="#5e5e5e" transform="translate(573.10 227.80) rotate(-90) scale(0.70 1)">41</text>
<text x="0" y="0" font-size="11.0" text-anchor="middle" fill="#5e5e5e" transform="translate(573.10 341.00) rotate(-90) scale(0.70 1)">4.46</text>
<text x="0" y="0" font-size="11.0" text-anchor="middle" fill="#5e5e5e" transform="translate(573.10 436.80) rotate(-90) scale(0.70 1)">16</text>
<text x="0" y="0" font-size="11.0" text-anchor="middle" fill="#5e5e5e" transform="translate(573.10 489.60) rotate(-90) scale(0.70 1)">1.64</text>
<text x="0" y="0" font-size="11.0" text-anchor="middle" fill="#5e5e5e" transform="translate(573.10 518.90) rotate(-90) scale(0.70 1)">15</text>
<text x="0" y="0" font-size="11.0" text-anchor="middle" fill="#5e5e5e" transform="translate(573.10 598.50) rotate(-90) scale(0.70 1)">2.83</text>
<text x="0" y="0" font-size="11.0" text-anchor="middle" fill="#5e5e5e" transform="translate(573.10 672.60) rotate(-90) scale(0.70 1)">41</text>
<line x1="133.00" y1="704.70" x2="433.40" y2="704.70" stroke="#4a4a4a" stroke-width="0.75"/>
<line x1="133.00" y1="698.70" x2="133.00" y2="710.70" stroke="#4a4a4a" stroke-width="0.75"/>
<line x1="131.40" y1="706.30" x2="134.60" y2="703.10" stroke="#4a4a4a" stroke-width="0.9"/>
<line x1="237.00" y1="698.70" x2="237.00" y2="710.70" stroke="#4a4a4a" stroke-width="0.75"/>
<line x1="235.40" y1="706.30" x2="238.60" y2="703.10" stroke="#4a4a4a" stroke-width="0.9"/>
<line x1="250.60" y1="698.70" x2="250.60" y2="710.70" stroke="#4a4a4a" stroke-width="0.75"/>
<line x1="249.00" y1="706.30" x2="252.20" y2="703.10" stroke="#4a4a4a" stroke-width="0.9"/>
<line x1="264.90" y1="698.70" x2="264.90" y2="710.70" stroke="#4a4a4a" stroke-width="0.75"/>
<line x1="263.30" y1="706.30" x2="266.50" y2="703.10" stroke="#4a4a4a" stroke-width="0.9"/>
<line x1="321.30" y1="698.70" x2="321.30" y2="710.70" stroke="#4a4a4a" stroke-width="0.75"/>
<line x1="319.70" y1="706.30" x2="322.90" y2="703.10" stroke="#4a4a4a" stroke-width="0.9"/>
<line x1="327.50" y1="698.70" x2="327.50" y2="710.70" stroke="#4a4a4a" stroke-width="0.75"/>
<line x1="325.90" y1="706.30" x2="329.10" y2="703.10" stroke="#4a4a4a" stroke-width="0.9"/>
<line x1="364.60" y1="698.70" x2="364.60" y2="710.70" stroke="#4a4a4a" stroke-width="0.75"/>
<line x1="363.00" y1="706.30" x2="366.20" y2="703.10" stroke="#4a4a4a" stroke-width="0.9"/>
<line x1="420.60" y1="698.70" x2="420.60" y2="710.70" stroke="#4a4a4a" stroke-width="0.75"/>
<line x1="419.00" y1="706.30" x2="422.20" y2="703.10" stroke="#4a4a4a" stroke-width="0.9"/>
<line x1="423.80" y1="698.70" x2="423.80" y2="710.70" stroke="#4a4a4a" stroke-width="0.75"/>
<line x1="422.20" y1="706.30" x2="425.40" y2="703.10" stroke="#4a4a4a" stroke-width="0.9"/>
<line x1="227.50" y1="728.30" x2="426.60" y2="728.30" stroke="#4a4a4a" stroke-width="0.75"/>
<line x1="235.40" y1="729.90" x2="238.60" y2="726.70" stroke="#4a4a4a" stroke-width="0.9"/>
<line x1="249.00" y1="729.90" x2="252.20" y2="726.70" stroke="#4a4a4a" stroke-width="0.9"/>
<line x1="319.70" y1="729.90" x2="322.90" y2="726.70" stroke="#4a4a4a" stroke-width="0.9"/>
<line x1="325.90" y1="729.90" x2="329.10" y2="726.70" stroke="#4a4a4a" stroke-width="0.9"/>
<line x1="422.20" y1="729.90" x2="425.40" y2="726.70" stroke="#4a4a4a" stroke-width="0.9"/>
<line x1="241.70" y1="750.90" x2="426.60" y2="750.90" stroke="#4a4a4a" stroke-width="0.75"/>
<line x1="254.50" y1="744.90" x2="254.50" y2="756.90" stroke="#4a4a4a" stroke-width="0.75"/>
<line x1="252.90" y1="752.50" x2="256.10" y2="749.30" stroke="#4a4a4a" stroke-width="0.9"/>
<line x1="280.40" y1="744.90" x2="280.40" y2="756.90" stroke="#4a4a4a" stroke-width="0.75"/>
<line x1="278.80" y1="752.50" x2="282.00" y2="749.30" stroke="#4a4a4a" stroke-width="0.9"/>
<line x1="285.10" y1="744.90" x2="285.10" y2="756.90" stroke="#4a4a4a" stroke-width="0.75"/>
<line x1="283.50" y1="752.50" x2="286.70" y2="749.30" stroke="#4a4a4a" stroke-width="0.9"/>
<line x1="356.40" y1="744.90" x2="356.40" y2="756.90" stroke="#4a4a4a" stroke-width="0.75"/>
<line x1="354.80" y1="752.50" x2="358.00" y2="749.30" stroke="#4a4a4a" stroke-width="0.9"/>
<line x1="388.50" y1="744.90" x2="388.50" y2="756.90" stroke="#4a4a4a" stroke-width="0.75"/>
<line x1="386.90" y1="752.50" x2="390.10" y2="749.30" stroke="#4a4a4a" stroke-width="0.9"/>
<line x1="249.00" y1="752.50" x2="252.20" y2="749.30" stroke="#4a4a4a" stroke-width="0.9"/>
<line x1="319.70" y1="752.50" x2="322.90" y2="749.30" stroke="#4a4a4a" stroke-width="0.9"/>
<line x1="325.90" y1="752.50" x2="329.10" y2="749.30" stroke="#4a4a4a" stroke-width="0.9"/>
<line x1="422.20" y1="752.50" x2="425.40" y2="749.30" stroke="#4a4a4a" stroke-width="0.9"/>
<line x1="249.60" y1="774.30" x2="426.60" y2="774.30" stroke="#4a4a4a" stroke-width="0.75"/>
<line x1="249.60" y1="768.30" x2="249.60" y2="780.30" stroke="#4a4a4a" stroke-width="0.75"/>
<line x1="248.00" y1="775.90" x2="251.20" y2="772.70" stroke="#4a4a4a" stroke-width="0.9"/>
<line x1="291.30" y1="768.30" x2="291.30" y2="780.30" stroke="#4a4a4a" stroke-width="0.75"/>
<line x1="289.70" y1="775.90" x2="292.90" y2="772.70" stroke="#4a4a4a" stroke-width="0.9"/>
<line x1="321.30" y1="768.30" x2="321.30" y2="780.30" stroke="#4a4a4a" stroke-width="0.75"/>
<line x1="319.70" y1="775.90" x2="322.90" y2="772.70" stroke="#4a4a4a" stroke-width="0.9"/>
<line x1="344.20" y1="768.30" x2="344.20" y2="780.30" stroke="#4a4a4a" stroke-width="0.75"/>
<line x1="342.60" y1="775.90" x2="345.80" y2="772.70" stroke="#4a4a4a" stroke-width="0.9"/>
<line x1="422.20" y1="775.90" x2="425.40" y2="772.70" stroke="#4a4a4a" stroke-width="0.9"/>
<line x1="237.00" y1="698.70" x2="237.00" y2="734.30" stroke="#4a4a4a" stroke-width="0.75"/>
<line x1="250.60" y1="698.70" x2="250.60" y2="756.90" stroke="#4a4a4a" stroke-width="0.75"/>
<line x1="321.30" y1="698.70" x2="321.30" y2="756.90" stroke="#4a4a4a" stroke-width="0.75"/>
<line x1="327.50" y1="698.70" x2="327.50" y2="756.90" stroke="#4a4a4a" stroke-width="0.75"/>
<line x1="423.80" y1="698.70" x2="423.80" y2="780.30" stroke="#4a4a4a" stroke-width="0.75"/>
<text x="185.00" y="701.50" font-size="11.0" text-anchor="middle" fill="#5e5e5e" transform="translate(185.00 0) scale(0.7 1) translate(-185.00 0)">2.25</text>
<text x="243.70" y="701.50" font-size="11.0" text-anchor="middle" fill="#5e5e5e" transform="translate(243.70 0) scale(0.7 1) translate(-243.70 0)">30</text>
<text x="257.50" y="701.50" font-size="11.0" text-anchor="middle" fill="#5e5e5e" transform="translate(257.50 0) scale(0.7 1) translate(-257.50 0)">31</text>
<text x="291.30" y="701.50" font-size="11.0" text-anchor="middle" fill="#5e5e5e" transform="translate(291.30 0) scale(0.7 1) translate(-291.30 0)">1.21</text>
<text x="345.50" y="701.50" font-size="11.0" text-anchor="middle" fill="#5e5e5e" transform="translate(345.50 0) scale(0.7 1) translate(-345.50 0)">80</text>
<text x="391.30" y="701.50" font-size="11.0" text-anchor="middle" fill="#5e5e5e" transform="translate(391.30 0) scale(0.7 1) translate(-391.30 0)">1.21</text>
<text x="428.70" y="701.50" font-size="11.0" text-anchor="middle" fill="#5e5e5e" transform="translate(428.70 0) scale(0.7 1) translate(-428.70 0)">7</text>
<text x="243.70" y="725.10" font-size="11.0" text-anchor="middle" fill="#5e5e5e" transform="translate(243.70 0) scale(0.7 1) translate(-243.70 0)">30</text>
<text x="284.50" y="725.10" font-size="11.0" text-anchor="middle" fill="#5e5e5e" transform="translate(284.50 0) scale(0.7 1) translate(-284.50 0)">1.52</text>
<text x="333.40" y="725.10" font-size="11.0" text-anchor="middle" fill="#5e5e5e" transform="translate(333.40 0) scale(0.7 1) translate(-333.40 0)">14</text>
<text x="375.30" y="725.10" font-size="11.0" text-anchor="middle" fill="#5e5e5e" transform="translate(375.30 0) scale(0.7 1) translate(-375.30 0)">2.09</text>
<text x="245.20" y="747.70" font-size="11.0" text-anchor="middle" fill="#5e5e5e" transform="translate(245.20 0) scale(0.7 1) translate(-245.20 0)">7</text>
<text x="266.60" y="747.70" font-size="11.0" text-anchor="middle" fill="#5e5e5e" transform="translate(266.60 0) scale(0.7 1) translate(-266.60 0)">57</text>
<text x="289.60" y="747.70" font-size="11.0" text-anchor="middle" fill="#5e5e5e" transform="translate(289.60 0) scale(0.7 1) translate(-289.60 0)">11</text>
<text x="307.20" y="747.70" font-size="11.0" text-anchor="middle" fill="#5e5e5e" transform="translate(307.20 0) scale(0.7 1) translate(-307.20 0)">76</text>
<text x="341.10" y="747.70" font-size="11.0" text-anchor="middle" fill="#5e5e5e" transform="translate(341.10 0) scale(0.7 1) translate(-341.10 0)">62</text>
<text x="371.30" y="747.70" font-size="11.0" text-anchor="middle" fill="#5e5e5e" transform="translate(371.30 0) scale(0.7 1) translate(-371.30 0)">69</text>
<text x="405.50" y="747.70" font-size="11.0" text-anchor="middle" fill="#5e5e5e" transform="translate(405.50 0) scale(0.7 1) translate(-405.50 0)">77</text>
<text x="270.00" y="771.10" font-size="11.0" text-anchor="middle" fill="#5e5e5e" transform="translate(270.00 0) scale(0.7 1) translate(-270.00 0)">90</text>
<text x="305.50" y="771.10" font-size="11.0" text-anchor="middle" fill="#5e5e5e" transform="translate(305.50 0) scale(0.7 1) translate(-305.50 0)">65</text>
<text x="332.30" y="771.10" font-size="11.0" text-anchor="middle" fill="#5e5e5e" transform="translate(332.30 0) scale(0.7 1) translate(-332.30 0)">50</text>
<text x="382.80" y="771.10" font-size="11.0" text-anchor="middle" fill="#5e5e5e" transform="translate(382.80 0) scale(0.7 1) translate(-382.80 0)">1.72</text>
<text x="248.30" y="173.00" font-size="16.4" text-anchor="start" fill="#262626" textLength="43.40" lengthAdjust="spacingAndGlyphs" stroke="#fff" stroke-width="0.5">Balkon</text>
<text x="234.70" y="189.60" font-size="13" text-anchor="start" fill="#3a3a3a" textLength="20.60" lengthAdjust="spacingAndGlyphs" stroke="#fff" stroke-width="0.28">Fl.=</text>
<text x="263.40" y="189.60" font-size="13" text-anchor="start" fill="#3a3a3a" textLength="23.00" lengthAdjust="spacingAndGlyphs" stroke="#fff" stroke-width="0.28">5,16</text>
<text x="294.00" y="189.60" font-size="13" text-anchor="start" fill="#3a3a3a" textLength="14.70" lengthAdjust="spacingAndGlyphs" stroke="#fff" stroke-width="0.28">qm</text>
<text x="233.60" y="315.50" font-size="16.4" text-anchor="start" fill="#262626" textLength="84.50" lengthAdjust="spacingAndGlyphs" stroke="#fff" stroke-width="0.5">Wohnzimmer</text>
<text x="233.60" y="333.80" font-size="14" text-anchor="start" fill="#3a3a3a" textLength="10.90" lengthAdjust="spacingAndGlyphs" stroke="#fff" stroke-width="0.28">Fl.</text>
<text x="253.60" y="333.80" font-size="14" text-anchor="start" fill="#3a3a3a" textLength="7.00" lengthAdjust="spacingAndGlyphs" stroke="#fff" stroke-width="0.28">=</text>
<text x="269.40" y="333.80" font-size="14" text-anchor="start" fill="#3a3a3a" textLength="28.30" lengthAdjust="spacingAndGlyphs" stroke="#fff" stroke-width="0.28">16,75</text>
<text x="305.80" y="333.80" font-size="14" text-anchor="start" fill="#3a3a3a" textLength="16.10" lengthAdjust="spacingAndGlyphs" stroke="#fff" stroke-width="0.28">qm</text>
<text x="233.60" y="352.30" font-size="14" text-anchor="start" fill="#3a3a3a" textLength="16.20" lengthAdjust="spacingAndGlyphs" stroke="#fff" stroke-width="0.28">RH.</text>
<text x="259.60" y="352.30" font-size="14" text-anchor="start" fill="#3a3a3a" textLength="7.00" lengthAdjust="spacingAndGlyphs" stroke="#fff" stroke-width="0.28">=</text>
<text x="275.10" y="352.30" font-size="14" text-anchor="start" fill="#3a3a3a" textLength="22.60" lengthAdjust="spacingAndGlyphs" stroke="#fff" stroke-width="0.28">2,49</text>
<text x="306.40" y="352.30" font-size="14" text-anchor="start" fill="#3a3a3a" textLength="8.90" lengthAdjust="spacingAndGlyphs" stroke="#fff" stroke-width="0.28">m</text>
<text x="408.30" y="315.50" font-size="16.4" text-anchor="start" fill="#262626" textLength="91.10" lengthAdjust="spacingAndGlyphs" stroke="#fff" stroke-width="0.5">Schlafzimmer</text>
<text x="408.30" y="333.80" font-size="14" text-anchor="start" fill="#3a3a3a" textLength="11.30" lengthAdjust="spacingAndGlyphs" stroke="#fff" stroke-width="0.28">Fl.</text>
<text x="429.00" y="333.80" font-size="14" text-anchor="start" fill="#3a3a3a" textLength="6.80" lengthAdjust="spacingAndGlyphs" stroke="#fff" stroke-width="0.28">=</text>
<text x="444.70" y="333.80" font-size="14" text-anchor="start" fill="#3a3a3a" textLength="27.80" lengthAdjust="spacingAndGlyphs" stroke="#fff" stroke-width="0.28">15,15</text>
<text x="480.60" y="333.80" font-size="14" text-anchor="start" fill="#3a3a3a" textLength="16.00" lengthAdjust="spacingAndGlyphs" stroke="#fff" stroke-width="0.28">qm</text>
<text x="141.30" y="489.50" font-size="17" text-anchor="start" fill="#262626" textLength="85.30" lengthAdjust="spacingAndGlyphs" stroke="#fff" stroke-width="0.5">Treppenhaus</text>
<text x="313.80" y="468.00" font-size="16.4" text-anchor="start" fill="#262626" textLength="23.60" lengthAdjust="spacingAndGlyphs" stroke="#fff" stroke-width="0.5">Flur</text>
<text x="289.40" y="483.70" font-size="13.6" text-anchor="start" fill="#3a3a3a" textLength="20.60" lengthAdjust="spacingAndGlyphs" stroke="#fff" stroke-width="0.28">Fl.=</text>
<text x="317.70" y="483.70" font-size="13.6" text-anchor="start" fill="#3a3a3a" textLength="24.00" lengthAdjust="spacingAndGlyphs" stroke="#fff" stroke-width="0.28">5,49</text>
<text x="350.20" y="483.70" font-size="13.6" text-anchor="start" fill="#3a3a3a" textLength="15.10" lengthAdjust="spacingAndGlyphs" stroke="#fff" stroke-width="0.28">qm</text>
<text x="349.80" y="570.80" font-size="15.399999999999999" text-anchor="start" fill="#262626" textLength="42.50" lengthAdjust="spacingAndGlyphs" stroke="#fff" stroke-width="0.5">Kueche</text>
<text x="337.50" y="589.00" font-size="13.4" text-anchor="start" fill="#3a3a3a" textLength="9.90" lengthAdjust="spacingAndGlyphs" stroke="#fff" stroke-width="0.28">Fl.</text>
<text x="354.20" y="589.00" font-size="13.4" text-anchor="start" fill="#3a3a3a" textLength="6.00" lengthAdjust="spacingAndGlyphs" stroke="#fff" stroke-width="0.28">=</text>
<text x="368.30" y="589.00" font-size="13.4" text-anchor="start" fill="#3a3a3a" textLength="22.50" lengthAdjust="spacingAndGlyphs" stroke="#fff" stroke-width="0.28">5,89</text>
<text x="395.50" y="589.00" font-size="13.4" text-anchor="start" fill="#3a3a3a" textLength="13.70" lengthAdjust="spacingAndGlyphs" stroke="#fff" stroke-width="0.28">qm</text>
<text x="0" y="0" font-size="17.6" fill="#262626" stroke="#fff" stroke-width="0.5" textLength="47.5" lengthAdjust="spacingAndGlyphs" transform="translate(272.1 607.9) rotate(-90)">Bad/WC</text>
<text x="0" y="0" font-size="10.6" fill="#6e6e6e" textLength="46.7" lengthAdjust="spacingAndGlyphs" transform="translate(283.3 607.1) rotate(-90)">Fl.=4,49qm</text>
<circle cx="564.00" cy="155.90" r="18.9" fill="none" stroke="#4a4a4a" stroke-width="0.8"/>
<path d="M564.00,155.90 L567.14,151.75 L597.88,151.20 Z" fill="#000" stroke="#000" stroke-width="0.25"/>
<path d="M564.00,155.90 L568.15,159.04 L597.88,151.20 Z" fill="#fff" stroke="#222" stroke-width="0.6"/>
<path d="M564.00,155.90 L568.15,159.04 L568.70,189.78 Z" fill="#000" stroke="#000" stroke-width="0.25"/>
<path d="M564.00,155.90 L560.86,160.05 L568.70,189.78 Z" fill="#fff" stroke="#222" stroke-width="0.6"/>
<path d="M564.00,155.90 L560.86,160.05 L530.12,160.60 Z" fill="#000" stroke="#000" stroke-width="0.25"/>
<path d="M564.00,155.90 L559.85,152.76 L530.12,160.60 Z" fill="#fff" stroke="#222" stroke-width="0.6"/>
<path d="M564.00,155.90 L559.85,152.76 L559.30,122.02 Z" fill="#000" stroke="#000" stroke-width="0.25"/>
<path d="M564.00,155.90 L567.14,151.75 L559.30,122.02 Z" fill="#fff" stroke="#222" stroke-width="0.6"/>
<text x="0" y="0" font-size="11" text-anchor="middle" fill="#666" transform="translate(602.0 152.3) rotate(82) scale(0.9 1)">N</text>
<text x="60.10" y="821.90" font-size="9" text-anchor="start" fill="#555" textLength="344.20" lengthAdjust="spacing">Saechsische Wohnungsgenossenschaft Chemnitz eG, Dresdner Strasse 80,</text>
<text x="416.90" y="821.90" font-size="9" text-anchor="start" fill="#555" textLength="73.40" lengthAdjust="spacing">09130 Chemnitz</text>
<text x="60.10" y="846.50" font-size="14.5" text-anchor="start" fill="#4c4c4c" textLength="240.20" lengthAdjust="spacing" stroke="#fff" stroke-width="0.5">Chemnitz, Fuerstenstrasse 71c,</text>
<text x="338.10" y="846.50" font-size="14.5" text-anchor="start" fill="#4c4c4c" textLength="149.20" lengthAdjust="spacing" stroke="#fff" stroke-width="0.5">Erdgeschoss rechts</text>
<text x="382.90" y="870.90" font-size="9" text-anchor="start" fill="#555" textLength="128.80" lengthAdjust="spacing">Massangaben ohne Gewaehr</text>
<text x="541.40" y="872.60" font-size="15.5" text-anchor="start" fill="#4c4c4c" textLength="55.40" lengthAdjust="spacing" stroke="#fff" stroke-width="0.5">R 2.5.6</text>
</g>
</svg>
</body></html>
